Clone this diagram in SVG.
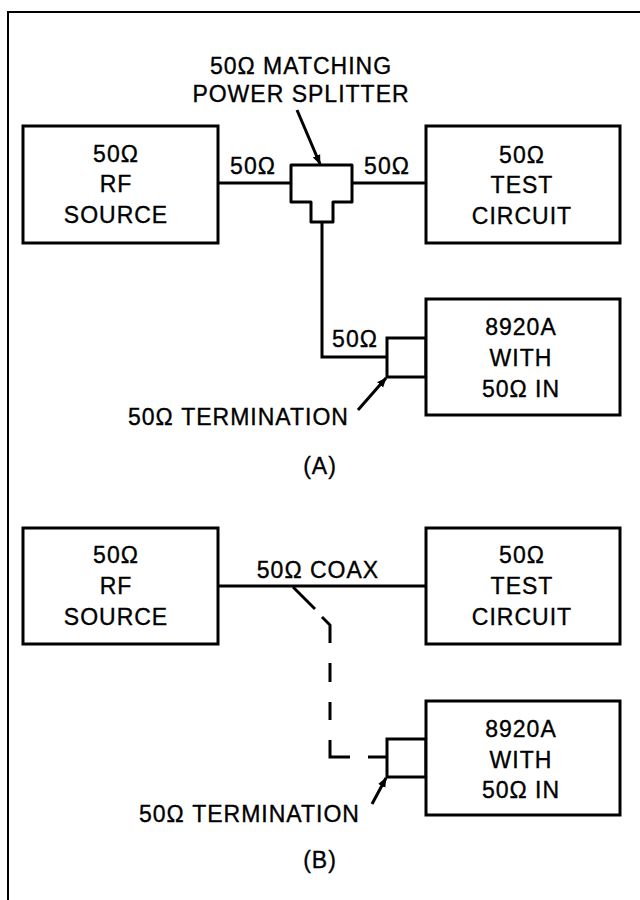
<svg xmlns="http://www.w3.org/2000/svg" width="640" height="900" viewBox="0 0 640 900">
<defs>
<style>
.t{font-family:"Liberation Sans",Arial,sans-serif;font-size:23px;fill:#000;stroke:#000;stroke-width:0.35px;text-anchor:middle;letter-spacing:1px}
.ts{text-anchor:start}
.box{fill:#fff;stroke:#000;stroke-width:3}
.ln{fill:none;stroke:#000;stroke-width:3}
</style>
<marker id="ah" markerWidth="10" markerHeight="10" refX="9" refY="5" orient="auto" markerUnits="userSpaceOnUse" viewBox="0 0 10 10">
<path d="M0,1 L10,5 L0,9 z" fill="#000"/>
</marker>
</defs>
<rect width="640" height="900" fill="#fff"/>
<rect x="8" y="12" width="700" height="1000" fill="none" stroke="#000" stroke-width="2"/>

<g id="connectors">
<line class="ln" x1="218" y1="183" x2="291" y2="183"/>
<line class="ln" x1="352" y1="183" x2="426" y2="183"/>
<polyline class="ln" points="322,222 322,357 387,357"/>
<line class="ln" x1="218" y1="586" x2="426" y2="586"/>
<path class="ln" d="M293,587 L315,609 M322,617 L330,625 L330,643 M330,663 V682 M330,702 V720 M330,740 V757 H350 M368,757 H387"/>
<line class="ln" stroke-width="2.5" x1="297" y1="110" x2="320" y2="164" marker-end="url(#ah)"/>
<line class="ln" stroke-width="2.5" x1="358" y1="410" x2="386" y2="378" marker-end="url(#ah)"/>
<line class="ln" stroke-width="2.5" x1="372" y1="804" x2="386" y2="778" marker-end="url(#ah)"/>
</g>

<g id="title-A">
<text class="t" x="301" y="74">50Ω MATCHING</text>
<text class="t" x="301" y="102">POWER SPLITTER</text>
<text class="t" x="253" y="174">50Ω</text>
<text class="t" x="387" y="174">50Ω</text>
<text class="t" x="355" y="347">50Ω</text>
<text class="t ts" x="128" y="425">50Ω TERMINATION</text>
<text class="t" x="320" y="474">(A)</text>
</g>

<g id="rf-source-a">
<rect class="box" x="23" y="126" width="195" height="117"/>
<text class="t" x="116" y="162">50Ω</text>
<text class="t" x="116" y="192">RF</text>
<text class="t" x="116" y="223">SOURCE</text>
</g>

<g id="splitter">
<path class="box" d="M291,165 H352 V202 H333 V222 H311 V202 H291 Z" stroke-linejoin="round"/>
</g>

<g id="test-circuit-a">
<rect class="box" x="426" y="126" width="194" height="117"/>
<text class="t" x="522" y="163">50Ω</text>
<text class="t" x="522" y="193">TEST</text>
<text class="t" x="522" y="224">CIRCUIT</text>
</g>

<g id="termination-a">
<rect class="box" x="387" y="338" width="39" height="39"/>
</g>

<g id="meter-a">
<rect class="box" x="426" y="299" width="194" height="116"/>
<text class="t" x="521" y="335">8920A</text>
<text class="t" x="521" y="366">WITH</text>
<text class="t" x="521" y="397">50Ω IN</text>
</g>

<g id="labels-B">
<text class="t" x="318" y="578">50Ω COAX</text>
<text class="t ts" x="139" y="822">50Ω TERMINATION</text>
<text class="t" x="320" y="868">(B)</text>
</g>

<g id="rf-source-b">
<rect class="box" x="23" y="528" width="195" height="116"/>
<text class="t" x="116" y="563">50Ω</text>
<text class="t" x="116" y="594">RF</text>
<text class="t" x="116" y="625">SOURCE</text>
</g>

<g id="test-circuit-b">
<rect class="box" x="426" y="528" width="194" height="116"/>
<text class="t" x="522" y="563">50Ω</text>
<text class="t" x="522" y="594">TEST</text>
<text class="t" x="522" y="625">CIRCUIT</text>
</g>

<g id="termination-b">
<rect class="box" x="387" y="739" width="39" height="38"/>
</g>

<g id="meter-b">
<rect class="box" x="426" y="701" width="194" height="114"/>
<text class="t" x="521" y="737">8920A</text>
<text class="t" x="521" y="768">WITH</text>
<text class="t" x="521" y="798">50Ω IN</text>
</g>
</svg>
